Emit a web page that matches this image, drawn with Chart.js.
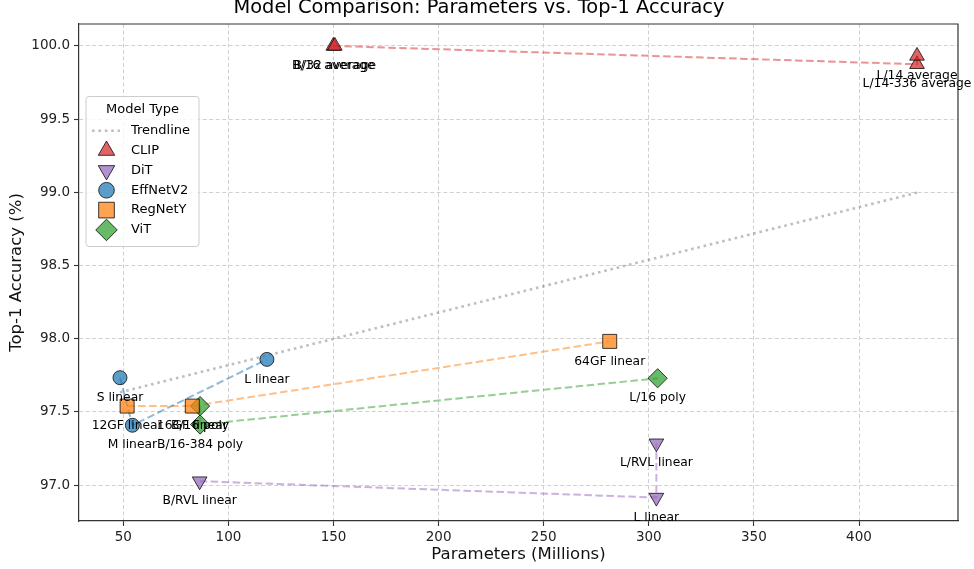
<!DOCTYPE html>
<html>
<head>
<meta charset="utf-8">
<script src="https://cdn.jsdelivr.net/npm/chart.js@4.4.1/dist/chart.umd.min.js"></script>
<style>
  html, body { margin: 0; padding: 0; background: #ffffff; }
  #wrap { width: 974px; height: 569px; }
</style>
</head>
<body>
<div id="wrap"><canvas id="chart" width="974" height="569"></canvas></div>
<script>
// Parameters (millions) vs. Top-1 accuracy (%) per model family
const clipNames = ['B/16 average', 'B/32 average', 'L/14-336 average', 'L/14 average'];
const clipParams = [149.9, 150.6, 427.6, 427.6];
const clipTop1 = [100.0, 100.0, 99.875, 99.932];

const ditNames = ['B/RVL linear', 'L linear', 'L/RVL linear'];
const ditParams = [86.3, 303.6, 303.6];
const ditTop1 = [97.027, 96.915, 97.286];

const effNames = ['S linear', 'M linear', 'L linear'];
const effParams = [48.4, 54.3, 118.3];
const effTop1 = [97.734, 97.409, 97.859];

const regNames = ['12GF linear', '16GF linear', '64GF linear'];
const regParams = [51.8, 82.8, 281.4];
const regTop1 = [97.54, 97.54, 97.982];

const vitNames = ['B/16 poly', 'B/16-384 poly', 'L/16 poly'];
const vitParams = [86.5, 86.5, 304.2];
const vitTop1 = [97.54, 97.414, 97.73];

// overall trend across all models
const trendParams = [48.4, 427.6];
const trendTop1 = [97.634, 98.998];

const xTicks = [50, 100, 150, 200, 250, 300, 350, 400];
const yTicks = [97.0, 97.5, 98.0, 98.5, 99.0, 99.5, 100.0];

const FONT = '"DejaVu Sans", "Liberation Sans", sans-serif';
Chart.defaults.font.family = FONT;

const groups = [
  { label: 'CLIP', names: clipNames, params: clipParams, top1: clipTop1, rgb: '214,39,40', style: 'triangle', radius: 8.5, rotation: 0 },
  { label: 'DiT', names: ditNames, params: ditParams, top1: ditTop1, rgb: '148,103,189', style: 'triangle', radius: 8.5, rotation: 180 },
  { label: 'EffNetV2', names: effNames, params: effParams, top1: effTop1, rgb: '31,119,180', style: 'circle', radius: 7, rotation: 0 },
  { label: 'RegNetY', names: regNames, params: regParams, top1: regTop1, rgb: '255,127,14', style: 'rect', radius: 9.9, rotation: 0 },
  { label: 'ViT', names: vitNames, params: vitParams, top1: vitTop1, rgb: '44,160,44', style: 'rectRot', radius: 9.6, rotation: 0 }
];

const toPoints = (xs, ys) => xs.map((v, i) => ({ x: v, y: ys[i] }));

const datasets = [];
// grey dotted trendline at the bottom
datasets.push({
  label: 'Trendline',
  data: toPoints(trendParams, trendTop1),
  showLine: true,
  borderColor: 'rgba(128,128,128,0.5)',
  borderWidth: 2.6,
  borderDash: [2.6, 3.8],
  pointRadius: 0,
  pointHoverRadius: 0,
  order: 3
});
// dashed connector per family
groups.forEach(g => {
  datasets.push({
    label: g.label + ' line',
    data: toPoints(g.params, g.top1),
    showLine: true,
    borderColor: 'rgba(' + g.rgb + ',0.5)',
    borderWidth: 2,
    borderDash: [7.5, 3.5],
    pointRadius: 0,
    pointHoverRadius: 0,
    order: 2
  });
});
// markers
groups.forEach(g => {
  datasets.push({
    label: g.label,
    data: toPoints(g.params, g.top1),
    showLine: false,
    pointStyle: g.style,
    pointRadius: g.radius,
    pointHoverRadius: g.radius,
    pointRotation: g.rotation,
    backgroundColor: 'rgba(' + g.rgb + ',0.72)',
    borderColor: 'rgba(0,0,0,0.75)',
    pointBorderWidth: 1,
    order: 1
  });
});

// text under each marker
const pointLabels = {
  id: 'pointLabels',
  afterDatasetsDraw(chart) {
    const { ctx, scales: { x, y } } = chart;
    ctx.save();
    ctx.font = '12.3px ' + FONT;
    ctx.fillStyle = '#000';
    ctx.textAlign = 'center';
    ctx.textBaseline = 'middle';
    groups.forEach(g => {
      g.names.forEach((n, i) => {
        ctx.fillText(n, x.getPixelForValue(g.params[i]), y.getPixelForValue(g.top1[i]) + 20);
      });
    });
    ctx.restore();
  }
};

// top and right spines
const frame = {
  id: 'frame',
  afterDatasetsDraw(chart) {
    const { ctx, chartArea: a } = chart;
    ctx.save();
    ctx.strokeStyle = '#333';
    ctx.lineWidth = 1.2;
    ctx.beginPath();
    ctx.moveTo(a.left, a.top);
    ctx.lineTo(a.right, a.top);
    ctx.lineTo(a.right, a.bottom);
    ctx.stroke();
    ctx.restore();
  }
};

// boxed legend in the upper left of the plot
const typeLegend = {
  id: 'typeLegend',
  afterDraw(chart) {
    const { ctx } = chart;
    const bx = 86, by = 96.5, bw = 113, bh = 150;
    ctx.save();
    ctx.beginPath();
    ctx.roundRect(bx, by, bw, bh, 3);
    ctx.fillStyle = 'rgba(255,255,255,0.8)';
    ctx.fill();
    ctx.strokeStyle = '#cccccc';
    ctx.lineWidth = 1;
    ctx.stroke();

    ctx.fillStyle = '#000';
    ctx.font = '13px ' + FONT;
    ctx.textAlign = 'center';
    ctx.textBaseline = 'middle';
    ctx.fillText('Model Type', bx + bw / 2, 110);

    ctx.textAlign = 'left';
    const rowY0 = 130.7, step = 19.85, mx = 106.5, tx = 131;
    // trendline handle
    ctx.save();
    ctx.strokeStyle = 'rgba(128,128,128,0.5)';
    ctx.lineWidth = 2.6;
    ctx.setLineDash([2.6, 3.8]);
    ctx.beginPath();
    ctx.moveTo(92, rowY0);
    ctx.lineTo(120, rowY0);
    ctx.stroke();
    ctx.restore();
    ctx.fillText('Trendline', tx, rowY0);

    groups.forEach((g, i) => {
      const yy = rowY0 + step * (i + 1);
      ctx.save();
      ctx.fillStyle = 'rgba(' + g.rgb + ',0.72)';
      ctx.strokeStyle = 'rgba(0,0,0,0.75)';
      ctx.lineWidth = 1;
      Chart.helpers.drawPoint(ctx, {
        pointStyle: g.style,
        radius: g.radius * 1.12,
        rotation: g.rotation,
        borderWidth: 1
      }, mx, yy);
      ctx.restore();
      ctx.fillStyle = '#000';
      ctx.fillText(g.label, tx, yy);
    });
    ctx.restore();
  }
};

const gridCommon = {
  color: '#d0d0d0',
  lineWidth: 1,
  tickLength: 5,
  tickColor: '#333',
  tickWidth: 1.1,
  tickBorderDash: []
};

new Chart(document.getElementById('chart').getContext('2d'), {
  type: 'scatter',
  data: { datasets },
  options: {
    responsive: false,
    animation: false,
    events: [],
    layout: { padding: { left: 0, right: 16, top: 0, bottom: 0 } },
    plugins: {
      legend: { display: false },
      tooltip: { enabled: false },
      title: {
        display: true,
        text: 'Model Comparison: Parameters vs. Top-1 Accuracy',
        color: '#000',
        font: { size: 19.4, weight: 'normal', lineHeight: 1.0 },
        padding: { top: -2, bottom: 6.6 }
      }
    },
    scales: {
      x: {
        type: 'linear',
        min: 28.9,
        max: 447.1,
        afterBuildTicks: s => { s.ticks = xTicks.map(v => ({ value: v })); },
        afterFit: s => { s.height = 48; },
        ticks: { color: '#222', font: { size: 13.5 }, padding: 3, maxRotation: 0, callback: v => String(v) },
        grid: gridCommon,
        border: { color: '#333', width: 1.2, dash: [4, 2.5] },
        title: { display: true, text: 'Parameters (Millions)', color: '#111', font: { size: 16.5 }, padding: { top: 0, bottom: 4.2 } }
      },
      y: {
        type: 'linear',
        min: 96.755,
        max: 100.15,
        afterBuildTicks: s => { s.ticks = yTicks.map(v => ({ value: v })); },
        afterFit: s => { s.width = 79; },
        ticks: { color: '#222', font: { size: 13.5 }, padding: 4, callback: v => Number(v).toFixed(1) },
        grid: gridCommon,
        border: { color: '#333', width: 1.2, dash: [4, 2.5] },
        title: { display: true, text: 'Top-1 Accuracy (%)', color: '#111', font: { size: 16.5 }, padding: { top: 7.2, bottom: 0 } }
      }
    }
  },
  plugins: [pointLabels, frame, typeLegend]
});
</script>
</body>
</html>
